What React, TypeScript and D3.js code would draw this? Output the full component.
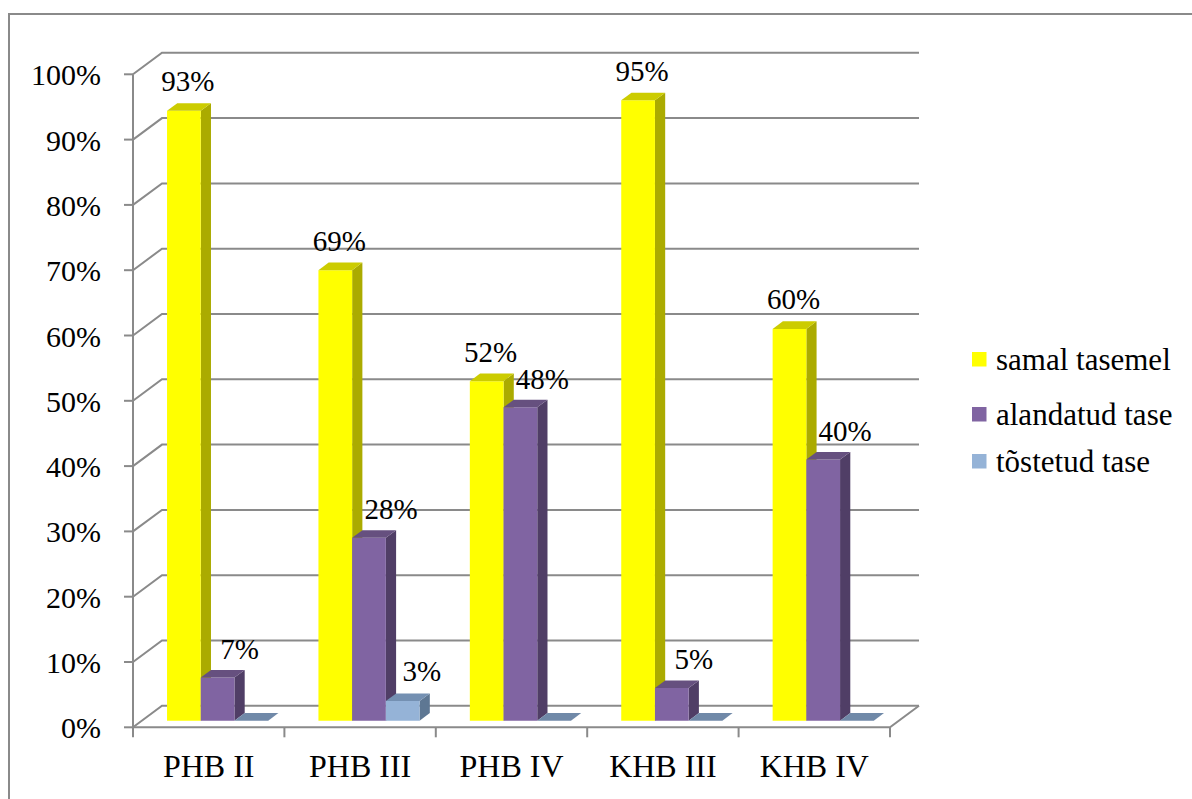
import React from "react";
import * as d3 from "d3";

const categories = ["PHB II", "PHB III", "PHB IV", "KHB III", "KHB IV"];
const samalTasemel = [93.4, 69, 52, 95, 60];
const alandatudTase = [6.6, 28, 48, 5, 40];
const tostetudTase = [0, 3, 0, 0, 0];
const seriesNames = ["samal tasemel", "alandatud tase", "tõstetud tase"];
const yTicks = [0, 10, 20, 30, 40, 50, 60, 70, 80, 90, 100];

const seriesValues = [samalTasemel, alandatudTase, tostetudTase];
const colors = [
  { front: "#FFFF00", top: "#CCCC00", side: "#ABAB00" },
  { front: "#8064A2", top: "#66507F", side: "#503E66" },
  { front: "#95B3D7", top: "#7490B2", side: "#5E7793" },
];
const labelDx = [4, 22, 19];
const labelDy = [12, 11, 13];

const W = 1192;
const H = 799;
const FONT = "Liberation Serif";
const GRID = "#8A8A8A";

export default function App() {
  const x0 = 133, x1 = 890;
  const yFront0 = 727.3, yFront100 = 74.3;
  const DX = 29, DY = -21.5; // full wall depth projection
  const zF = 0.307, zB = 0.66; // bar depth range
  const y = d3.scaleLinear().domain([0, 100]).range([yFront0, yFront100]);
  const x = d3.scaleBand<string>().domain(categories).range([x0, x1]).padding(0);
  const catW = x.bandwidth();
  const gap = catW * 0.166;
  const inner = d3.scaleBand<number>().domain([0, 1, 2]).range([gap, catW - gap]).padding(0);
  const bw = inner.bandwidth();
  const P = (px: number, py: number, z: number): [number, number] => [px + DX * z, py + DY * z];
  const poly = (pts: [number, number][]) => pts.map((p) => p.join(",")).join(" ");
  const txt = { fontFamily: FONT, fill: "#000" } as React.CSSProperties;

  const grid = yTicks.map((t) => {
    const yf = y(t);
    const [bx, by] = P(x0, yf, 1);
    const [ex] = P(x1, yf, 1);
    return (
      <g key={"g" + t}>
        <polyline points={poly([[x0, yf], [bx, by], [ex, by]])} fill="none" stroke={GRID} strokeWidth={2} />
        <line x1={x0 - 9} x2={x0} y1={yf} y2={yf} stroke={GRID} strokeWidth={2} />
        <text x={101} y={yf + 11} textAnchor="end" style={{ ...txt, fontSize: 30 }}>
          {t + "%"}
        </text>
      </g>
    );
  });

  const floor = (() => {
    const [rx, ry] = P(x1, yFront0, 1);
    return (
      <g>
        <polyline points={poly([[x0, yFront0], [x1, yFront0], [rx, ry]])} fill="none" stroke={GRID} strokeWidth={2} />
        <line x1={x0} x2={x0} y1={yFront100} y2={yFront0 + 10} stroke={GRID} strokeWidth={2} />
        {categories.map((c, i) => (
          <line key={"t" + i} x1={x(c)! + catW} x2={x(c)! + catW} y1={yFront0} y2={yFront0 + 10} stroke={GRID} strokeWidth={2} />
        ))}
      </g>
    );
  })();

  const bars: JSX.Element[] = [];
  const labels: JSX.Element[] = [];
  categories.forEach((c, ci) => {
    seriesValues.forEach((vals, si) => {
      const v = vals[ci];
      const lx = x(c)! + inner(si)!;
      const rx = lx + bw;
      const yb = y(0);
      const yt = y(v);
      const fl = P(lx, yt, zF), fr = P(rx, yt, zF), br = P(rx, yt, zB), bl = P(lx, yt, zB);
      const fbl = P(lx, yb, zF), fbr = P(rx, yb, zF), bbr = P(rx, yb, zB);
      const col = colors[si];
      bars.push(
        <g key={`b${ci}-${si}`}>
          {v > 0 && <polygon points={poly([fr, br, bbr, fbr])} fill={col.side} />}
          {v > 0 && <polygon points={poly([fl, fr, fbr, fbl])} fill={col.front} />}
          <polygon points={poly([fl, fr, br, bl])} fill={v > 0 ? col.top : "#7089A8"} />
        </g>
      );
      if (v > 0) {
        labels.push(
          <text
            key={`l${ci}-${si}`}
            x={(fl[0] + fr[0]) / 2 + labelDx[si]}
            y={bl[1] - labelDy[si]}
            textAnchor="middle"
            style={{ ...txt, fontSize: 29 }}
          >
            {Math.round(v) + "%"}
          </text>
        );
      }
    });
  });

  const legendY = [352, 407, 454];

  return (
    <svg width={W} height={H} style={{ position: "absolute", left: 0, top: 0, background: "#fff" }}>
      <rect x={9} y={14} width={W + 20} height={H + 20} fill="#fff" stroke={GRID} strokeWidth={2} />
      {grid}
      {floor}
      {bars}
      {labels}
      {categories.map((c) => (
        <text key={c} x={x(c)! + catW / 2} y={777} textAnchor="middle" style={{ ...txt, fontSize: 32 }}>
          {c}
        </text>
      ))}
      {seriesNames.map((n, i) => (
        <g key={n}>
          <rect x={972} y={legendY[i]} width={14.5} height={14.5} fill={colors[i].front} />
          <text x={996} y={legendY[i] + 18} style={{ ...txt, fontSize: 31 }}>
            {n}
          </text>
        </g>
      ))}
    </svg>
  );
}
